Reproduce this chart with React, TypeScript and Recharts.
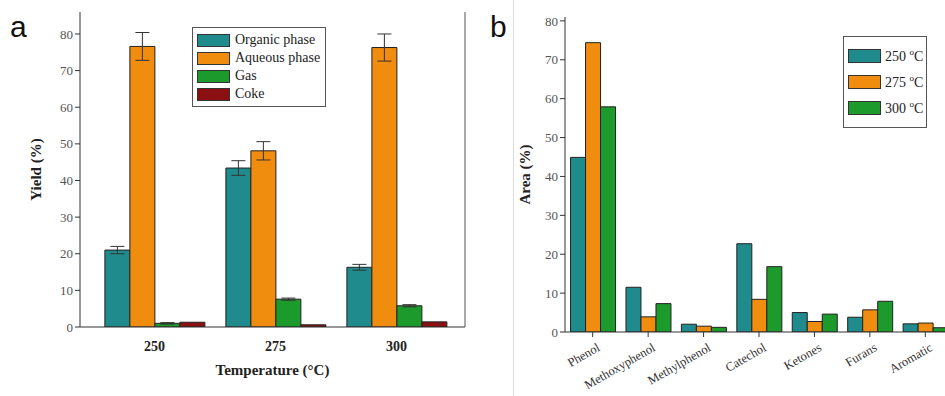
import React from 'react';
import { BarChart, Bar, XAxis, YAxis, ErrorBar } from 'recharts';

// panel a: product yields by temperature
const temperatures = ['250', '275', '300'];
const organicPhase = [21.0, 43.4, 16.3];
const organicErr = [1.0, 2.0, 0.8];
const aqueousPhase = [76.6, 48.1, 76.3];
const aqueousErr = [3.8, 2.5, 3.7];
const gasYield = [1.0, 7.6, 5.8];
const gasErr = [0.2, 0.3, 0.3];
const cokeYield = [1.3, 0.6, 1.4];

// panel b: compound area by temperature
const compounds = ['Phenol', 'Methoxyphenol', 'Methylphenol', 'Catechol', 'Ketones', 'Furans', 'Aromatic'];
const area250 = [44.9, 11.5, 2.0, 22.7, 5.0, 3.8, 2.1];
const area275 = [74.4, 3.9, 1.5, 8.4, 2.7, 5.7, 2.3];
const area300 = [57.9, 7.3, 1.2, 16.8, 4.6, 7.9, 1.1];

const yTicksA = [0, 10, 20, 30, 40, 50, 60, 70, 80];
const yTicksB = [0, 10, 20, 30, 40, 50, 60, 70, 80];

const TEAL = '#1f8b8c';
const ORANGE = '#f08c0e';
const GREEN = '#1c9a2c';
const RED = '#8c0f12';
const SERIF = '"Liberation Serif", "DejaVu Serif", serif';

const dataA = temperatures.map((t, i) => ({
  t,
  organic: organicPhase[i],
  organicErr: organicErr[i],
  aqueous: aqueousPhase[i],
  aqueousErr: aqueousErr[i],
  gas: gasYield[i],
  gasErr: gasErr[i],
  coke: cokeYield[i],
}));

const dataB = compounds.map((c, i) => ({
  c,
  a250: area250[i],
  a275: area275[i],
  a300: area300[i],
}));

const legendA = [
  { label: 'Organic phase', color: TEAL },
  { label: 'Aqueous phase', color: ORANGE },
  { label: 'Gas', color: GREEN },
  { label: 'Coke', color: RED },
];

const legendB = [
  { temp: '250', color: TEAL },
  { temp: '275', color: ORANGE },
  { temp: '300', color: GREEN },
];

function LegendBoxA() {
  return (
    <div style={{ position: 'absolute', left: 192, top: 27, border: '1px solid #555', background: '#fff', padding: '3px 5px 3px 4px', fontFamily: SERIF, fontSize: 14, color: '#222' }}>
      {legendA.map(e => (
        <div key={e.label} style={{ display: 'flex', alignItems: 'center', height: 18 }}>
          <span style={{ width: 31, height: 11, background: e.color, border: '1px solid #333', marginRight: 5 }} />
          <span>{e.label}</span>
        </div>
      ))}
    </div>
  );
}

function LegendBoxB() {
  return (
    <div style={{ position: 'absolute', left: 843, top: 36, border: '1px solid #555', background: '#fff', padding: '6px 3px 6px 4px', fontFamily: SERIF, fontSize: 14, color: '#222' }}>
      {legendB.map(e => (
        <div key={e.temp} style={{ display: 'flex', alignItems: 'center', height: 26 }}>
          <span style={{ width: 31, height: 12, background: e.color, border: '1px solid #333', marginRight: 4 }} />
          <span>{e.temp}&nbsp;<sup style={{ fontSize: 9, verticalAlign: 'super' }}>o</sup>C</span>
        </div>
      ))}
    </div>
  );
}

function RotatedTick(props: any) {
  const { x, y, payload } = props;
  return (
    <g transform={`translate(${x + 4},${y + 4})`}>
      <text textAnchor="end" transform="rotate(-30)" fontFamily={SERIF} fontSize={12.5} fill="#333" dy={8}>
        {payload.value}
      </text>
    </g>
  );
}

export default function App() {
  return (
    <div style={{ position: 'fixed', left: 0, top: 0, width: 945, height: 396, overflow: 'hidden', background: '#fff' }}>
      <div style={{ position: 'absolute', left: 0, top: 0 }}>
        <BarChart width={480} height={396} data={dataA} margin={{ top: 12, right: 14, bottom: 0, left: 20 }} barCategoryGap="9%" barGap={0}>
          <XAxis dataKey="t" padding={{ left: 14, right: 8 }} axisLine={{ stroke: '#333' }} tickLine={false} height={69}
            tick={{ fontFamily: SERIF, fontSize: 14, fontWeight: 'bold', fill: '#222' }} tickMargin={8}
            label={{ value: 'Temperature (\u00B0C)', position: 'insideBottom', offset: 21, style: { fontFamily: SERIF, fontSize: 15, fontWeight: 'bold', fill: '#222' } }} />
          <XAxis xAxisId="top" dataKey="t" orientation="top" height={0} tick={false} tickLine={false} axisLine={{ stroke: '#555' }} />
          <YAxis domain={[0, 86]} ticks={yTicksA} width={60} axisLine={{ stroke: '#333' }} tickSize={5} tickLine={{ stroke: '#333' }}
            tick={{ fontFamily: SERIF, fontSize: 13, fill: '#555' }} allowDataOverflow
            label={{ value: 'Yield (%)', angle: -90, position: 'insideLeft', offset: 16, style: { fontFamily: SERIF, fontSize: 15, fontWeight: 'bold', fill: '#222', textAnchor: 'middle' } }} />
          <YAxis yAxisId="right" orientation="right" width={1} tick={false} tickLine={false} axisLine={{ stroke: '#555' }} />
          <Bar dataKey="organic" fill={TEAL} stroke="#222" strokeWidth={1} isAnimationActive={false}>
            <ErrorBar dataKey="organicErr" width={7} stroke="#333" strokeWidth={1} />
          </Bar>
          <Bar dataKey="aqueous" fill={ORANGE} stroke="#222" strokeWidth={1} isAnimationActive={false}>
            <ErrorBar dataKey="aqueousErr" width={7} stroke="#333" strokeWidth={1} />
          </Bar>
          <Bar dataKey="gas" fill={GREEN} stroke="#222" strokeWidth={1} isAnimationActive={false}>
            <ErrorBar dataKey="gasErr" width={7} stroke="#333" strokeWidth={1} />
          </Bar>
          <Bar dataKey="coke" fill={RED} stroke="#222" strokeWidth={1} isAnimationActive={false} />
        </BarChart>
      </div>

      <div style={{ position: 'absolute', left: 515, top: 0 }}>
        <BarChart width={450} height={396} data={dataB} margin={{ top: 17, right: 12, bottom: 0, left: 0 }} barCategoryGap="10%" barGap={0}>
          <XAxis dataKey="c" interval={0} height={64} axisLine={{ stroke: '#333' }} tickLine={{ stroke: '#333' }} tickSize={5} tick={<RotatedTick />} />
          <XAxis xAxisId="top" dataKey="c" orientation="top" height={0} tick={false} tickLine={false} axisLine={{ stroke: '#555' }} />
          <YAxis domain={[0, 81]} ticks={yTicksB} width={50} axisLine={{ stroke: '#333' }} tickSize={5} tickLine={{ stroke: '#333' }}
            tick={{ fontFamily: SERIF, fontSize: 13, fill: '#555' }} allowDataOverflow
            label={{ value: 'Area (%)', angle: -90, position: 'insideLeft', offset: 10, style: { fontFamily: SERIF, fontSize: 15, fontWeight: 'bold', fill: '#222', textAnchor: 'middle' } }} />
          <Bar dataKey="a250" fill={TEAL} stroke="#222" strokeWidth={1} isAnimationActive={false} />
          <Bar dataKey="a275" fill={ORANGE} stroke="#222" strokeWidth={1} isAnimationActive={false} />
          <Bar dataKey="a300" fill={GREEN} stroke="#222" strokeWidth={1} isAnimationActive={false} />
        </BarChart>
      </div>

      <LegendBoxA />
      <LegendBoxB />
      <div style={{ position: 'absolute', left: 10, top: 12, fontFamily: 'Liberation Sans, Arial, sans-serif', fontSize: 30, lineHeight: '30px', color: '#111' }}>a</div>
      <div style={{ position: 'absolute', left: 490, top: 12, fontFamily: 'Liberation Sans, Arial, sans-serif', fontSize: 30, lineHeight: '30px', color: '#111' }}>b</div>
      <div style={{ position: 'absolute', left: 513, top: 0, width: 1, height: 396, background: '#ddd' }} />
    </div>
  );
}
